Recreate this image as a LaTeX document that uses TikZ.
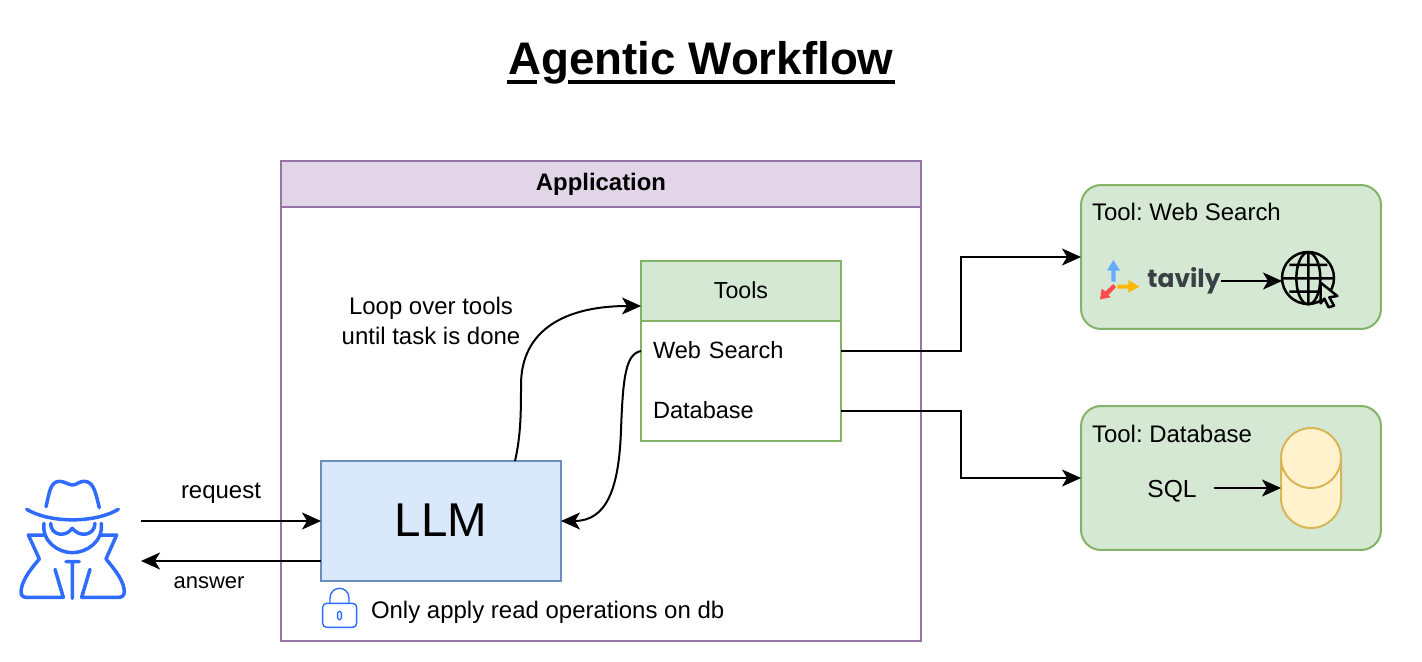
\documentclass[tikz,border=0pt]{standalone}
\usepackage{fontspec}
\setmainfont{Liberation Sans}
\newfontfamily\tavilyfont{Poppins}
\usetikzlibrary{arrows.meta}

\definecolor{apppurple}{HTML}{9673A6}
\definecolor{appfill}{HTML}{E1D5E7}
\definecolor{toolgreen}{HTML}{82B366}
\definecolor{toolfill}{HTML}{D5E8D4}
\definecolor{llmblue}{HTML}{6C8EBF}
\definecolor{llmfill}{HTML}{DAE8FC}
\definecolor{dbyellow}{HTML}{D6B656}
\definecolor{dbfill}{HTML}{FFF2CC}
\definecolor{iconblue}{HTML}{2F6BFF}
\definecolor{tavilygray}{HTML}{3A3F45}

\tikzset{
  box/.style={draw, line width=0.04cm, outer sep=0pt, inner sep=0pt},
  label/.style={inner sep=0pt, outer sep=0pt, font=\fontsize{13.4}{17}\selectfont},
  biglabel/.style={label, font=\fontsize{13.65}{17}\selectfont},
  link/.style={line width=0.04cm, -{Stealth[length=0.38cm, width=0.34cm, inset=0.1cm]}},
  iconline/.style={iconblue, line width=0.07cm, line cap=round, line join=round},
  globeline/.style={black, line width=0.05cm}
}

\begin{document}
\frenchspacing
\begin{tikzpicture}[x=0.02cm, y=-0.02cm]
  \useasboundingbox (0,0) rectangle (1422,662);

  \node[font=\fontsize{26}{30}\bfseries\selectfont, inner sep=0pt, anchor=base] (title) at (701,75) {Agentic Workflow};
  \draw[line width=0.08cm]
    (507,82) -- (537,82)
    (568,82) -- (895,82)
  ;

  % application frame
  \node[box, draw=apppurple, fill=white, minimum width=12.8cm, minimum height=9.6cm] (app) at (601,401) {};
  \node[box, draw=apppurple, fill=appfill, minimum width=12.8cm, minimum height=0.92cm, font=\fontsize{13.6}{17}\bfseries\selectfont] (apphead) at (601,184) {\raisebox{-2.6pt}{Application}};

  \node[box, draw=llmblue, fill=llmfill, minimum width=4.8cm, minimum height=2.4cm, font=\fontsize{27}{32}\selectfont] (llm) at (441,521) {\raisebox{1pt}{LLM}};

  % tools table
  \node[box, draw=toolgreen, fill=white, minimum width=4cm, minimum height=2.4cm] (toolsbody) at (741,381) {};
  \node[box, draw=toolgreen, fill=toolfill, minimum width=4cm, minimum height=1.2cm, font=\fontsize{13.2}{17}\selectfont] (toolshead) at (741,291) {\raisebox{0.55pt}{Tools}};
  \node[label, text width=3.52cm, inner xsep=0.24cm, align=left, minimum height=1.2cm] (webrow) at (741,351) {\raisebox{1pt}{Web Search}};
  \node[label, text width=3.52cm, inner xsep=0.24cm, align=left, minimum height=1.2cm] (dbrow) at (741,411) {\raisebox{1pt}{Database}};

  \node[biglabel, align=center] (looptext) at (431,321) {Loop over tools\\until task is done};
  \node[biglabel, anchor=west] (readonly) at (371,612) {Only apply read operations on db};

  % tool boxes
  \node[box, draw=toolgreen, fill=toolfill, rounded corners=0.4cm, minimum width=6cm, minimum height=2.88cm] (toolweb) at (1231,257) {};
  \node[box, draw=toolgreen, fill=toolfill, rounded corners=0.4cm, minimum width=6cm, minimum height=2.88cm] (tooldb) at (1231,478) {};
  \node[biglabel, anchor=west] (toolwebtext) at (1092,212) {Tool: Web Search};
  \node[biglabel, anchor=west] (tooldbtext) at (1092,434) {Tool: Database};

  % database cylinder
  \draw[dbyellow, fill=dbfill, line width=0.04cm]
    (1281,458) -- (1281,498) arc[start angle=180, end angle=360, x radius=30, y radius=-30]
    -- (1341,458) arc[start angle=0, end angle=180, x radius=30, y radius=-30] -- cycle
    (1281,458) arc[start angle=180, end angle=360, x radius=30, y radius=-30];
  \coordinate (dbport) at (1281,488);
  \node[label, font=\fontsize{14}{17}\selectfont, inner xsep=0.34cm] (sql) at (1172,491) {SQL};

  % web search logo
  \node[inner sep=0pt, outer sep=0pt, text=tavilygray, font=\tavilyfont\fontsize{14.2}{18}\bfseries\selectfont] (tavily) at (1184,281) {\raisebox{-1.2pt}{tavily}};
  \node[circle, draw, line width=0.05cm, minimum size=1.04cm, inner sep=0pt, outer sep=0pt] (globe) at (1308,278) {};
  \begin{scope}[shift={(1080,190)}, x=0.02cm/3, y=-0.02cm/3]
    \fill[blue!55!cyan!60!white] (94,275) -- (94,242) -- (81,242) -- (100,210) -- (120,242) -- (107,242) -- (107,275) -- cycle;
    \fill[orange!55!yellow] (112,284) -- (145,284) -- (145,270) -- (178,290) -- (145,308) -- (145,296) -- (112,296) -- cycle;
    \fill[red!70!white] (100,282) -- (108,292) -- (85,315) -- (92,322) -- (60,328) -- (65,296) -- (76,304) -- cycle;
    \draw[globeline] (685,187) -- (685,343)
      (609,265) -- (761,265)
      (628,225) -- (742,225)
      (628,305) -- (742,305)
      (685,265) ellipse[x radius=36, y radius=78];
    \draw[black, fill=toolfill, line width=0.05cm, line join=round]
      (722,278) -- (772,318) -- (748,322) -- (762,347) -- (746,352) -- (733,326) -- (722,340) -- cycle;
  \end{scope}

  % hacker icon
  \begin{scope}[shift={(0,460)}, x=0.02cm/3, y=-0.02cm/3]
    \draw[iconline]
      (138,140) .. controls (148,100) and (150,65) .. (178,64) .. controls (195,64) and (205,75) .. (218,75)
        .. controls (230,75) and (240,62) .. (255,64) .. controls (283,66) and (288,105) .. (298,143)
      (80,148) .. controls (150,190) and (285,190) .. (355,148)
      (132,190) .. controls (125,245) and (175,278) .. (217,278) .. controls (260,278) and (310,245) .. (304,190)
      (152,190) .. controls (152,225) and (195,235) .. (217,205) .. controls (240,235) and (285,225) .. (285,190)
      (135,225) -- (85,225) -- (118,297) .. controls (85,335) and (65,365) .. (63,395)
        .. controls (63,408) and (70,412) .. (80,412) -- (190,412) -- (165,328)
      (300,225) -- (350,225) -- (318,297) .. controls (350,335) and (372,365) .. (373,395)
        .. controls (373,408) and (365,412) .. (355,412) -- (245,412) -- (270,328)
      (198,305) -- (238,305)
      (217,305) -- (217,415);
  \end{scope}

  % lock icon
  \begin{scope}[shift={(300,570)}, x=0.02cm/3, y=-0.02cm/3]
    \draw[iconblue, line width=0.028cm, rounded corners=0.08cm] (68,100) rectangle (170,172);
    \draw[iconblue, line width=0.028cm] (90,100) -- (90,85) .. controls (90,45) and (147,45) .. (147,85) -- (147,100);
    \draw[iconblue, line width=0.028cm, rounded corners=0.03cm] (113,124) rectangle (124,149);
  \end{scope}

  % connectors
  \coordinate (reqstart) at (141,521);
  \coordinate (ansend) at (141,561);
  \coordinate (llmtop) at (515,461);
  \draw[link] (reqstart) -- (llm.west);
  \draw[link] (llm.west |- ansend) -- (ansend);
  \node[biglabel] (reqlabel) at (221,493) {request};
  \node[label, font=\fontsize{12.5}{15}\selectfont] (anslabel) at (209,583) {answer};

  \draw[link] (llmtop) .. controls (521,435) and (521,410) .. (521,385)
    .. controls (521,330) and (565,306) .. (toolshead.west |- 641,306);
  \draw[link] (webrow.west) .. controls (626,354) and (623,375) .. (621,430)
    .. controls (619,490) and (606,521) .. (llm.east);

  \draw[link] (webrow.east) -- ++(120,0) |- (toolweb.west);
  \draw[link] (dbrow.east) -- ++(120,0) |- (tooldb.west);

  \draw[link] (tavily.east) -- (tavily.east -| globe.west);
  \draw[link] (sql.east |- dbport) -- (dbport);
\end{tikzpicture}
\end{document}
